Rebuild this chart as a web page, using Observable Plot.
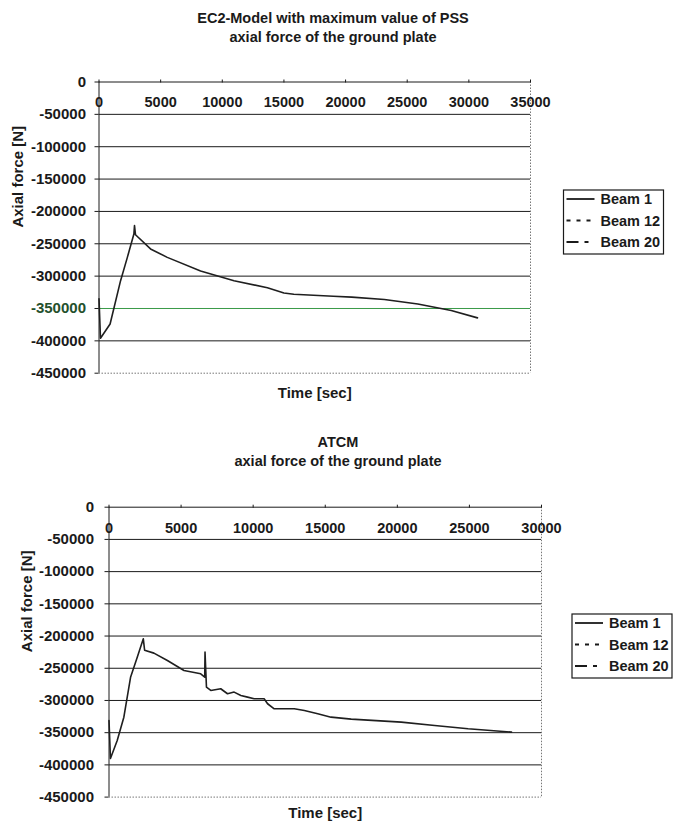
<!DOCTYPE html>
<html><head><meta charset="utf-8">
<script src="https://cdn.jsdelivr.net/npm/d3@7"></script>
<script src="https://cdn.jsdelivr.net/npm/@observablehq/plot@0.6"></script>
<style>
body{margin:0;background:#fff;font-family:"Liberation Sans",Arial,sans-serif;color:#1a1a1a}
#page{position:relative;width:676px;height:825px;overflow:hidden;background:#fff}
.title{position:absolute;left:0;text-align:center;font-weight:bold;font-size:14.5px;line-height:19px;color:#1a1a1a}
.chart{position:absolute;left:0}
</style></head><body><div id="page">
<div class="title" style="top:9px;width:666px">EC2-Model with maximum value of PSS<br>axial force of the ground plate</div>
<div class="chart" id="c1" style="top:60px"></div>
<div class="title" style="top:433px;width:676px">ATCM<br>axial force of the ground plate</div>
<div class="chart" id="c2" style="top:480px"></div>
</div>
<script>
// ---- data ----
const yTicks = [0, -50000, -100000, -150000, -200000, -250000, -300000, -350000, -400000, -450000];
const xTicksEC2 = [0, 5000, 10000, 15000, 20000, 25000, 30000, 35000];
const xTicksATCM = [0, 5000, 10000, 15000, 20000, 25000, 30000];
const seriesNames = ["Beam 1", "Beam 12", "Beam 20"];

// EC2-Model, Beam 1
const ec2Time  = [0, 120, 900, 1750, 2300, 2830, 2880, 2960, 4180, 5540, 8240, 10950, 13660, 15000, 15800, 19000, 20500, 23150, 25860, 28570, 30700];
const ec2Beam1 = [-335000, -396000, -374000, -307000, -271000, -235000, -222000, -236000, -258000, -271000, -292000, -307000, -318000, -326000, -328000, -331000, -332500, -336000, -343000, -353000, -364500];

// ATCM, Beam 1
const atcmTime  = [0, 100, 570, 1030, 1495, 1960, 2380, 2470, 3115, 4050, 5200, 6360, 6640, 6660, 6760, 7060, 7750, 8220, 8680, 9145, 9610, 10070, 10760, 11000, 11460, 12850, 13550, 14480, 15400, 16800, 20270, 22590, 24910, 27920];
const atcmBeam1 = [-331000, -390000, -362000, -326000, -264000, -233000, -204300, -222000, -226500, -238000, -253400, -258600, -263800, -225000, -279300, -284400, -281800, -289600, -287000, -292200, -294800, -297300, -297300, -305100, -312900, -312900, -315500, -320600, -325900, -329000, -333600, -338800, -344000, -349100];

const INK = "#1a1a1a";

function addLegend(svg, x, y) {
  const g = d3.select(svg).append("g").attr("transform", `translate(${x},${y})`);
  g.append("rect").attr("width", 100).attr("height", 64).attr("fill", "white").attr("stroke", INK).attr("stroke-width", 1.2);
  const dashes = [null, "4,6", "12,6,4,6"];
  seriesNames.forEach((name, i) => {
    const cy = 9 + i * 21.5;
    g.append("line").attr("x1", 3).attr("x2", 31).attr("y1", cy).attr("y2", cy)
      .attr("stroke", INK).attr("stroke-width", 1.8).attr("stroke-dasharray", dashes[i]);
    g.append("text").attr("x", 37).attr("y", cy).attr("dy", "0.35em").text(name)
      .attr("text-anchor", "start")
      .attr("font-size", 14.5).attr("font-weight", "bold").attr("fill", INK);
  });
}

function makeChart(o) {
  const data = o.time.map((t, i) => ({t, v: o.values[i]}));
  const grid = yTicks.filter(d => d !== 0 && d !== -450000 && !(o.green && d === -350000));
  const marks = [
    Plot.ruleY(grid, {stroke: INK, strokeWidth: 1}),
    Plot.ruleY([-450000], {stroke: "#777", strokeDasharray: "1.5,1.5"}),
    Plot.ruleX([o.xMax], {stroke: "#777", strokeDasharray: "1.5,1.5"}),
    Plot.ruleY([0], {stroke: INK, strokeWidth: 1}),
    Plot.ruleX([0], {stroke: INK, strokeWidth: 1}),
    Plot.axisY({ticks: yTicks, tickSize: 4, tickFormat: () => "", label: null}),
    Plot.text(yTicks, {y: d => d, frameAnchor: "left", text: d => String(d), textAnchor: "end", dx: -(4 + o.tickPad), fontSize: 15, fontWeight: "bold", fill: INK}),
    Plot.axisX({anchor: "top", ticks: o.xTicks, tickSize: 3, tickFormat: () => "", label: null}),
    Plot.text(o.xTicks, {x: d => d, y: () => 0, text: d => String(d), dy: o.xLabelDy, fontSize: 14.5, fontWeight: "bold", fill: INK}),
    Plot.line(data, {x: "t", y: "v", stroke: "#1f1f1f", strokeWidth: 1.6}),
    Plot.text(["Axial force [N]"], {frameAnchor: "left", rotate: -90, dx: -o.yLabelDx, fontSize: 15, fontWeight: "bold", fill: INK}),
    Plot.text(["Time [sec]"], {frameAnchor: "bottom", dy: o.xTitleDy, fontSize: 15, fontWeight: "bold", fill: INK})
  ];
  if (o.green) marks.splice(1, 0, Plot.ruleY([-350000], {stroke: "#3a9a48", strokeWidth: 1}));
  const svg = Plot.plot({
    width: 676, height: 345,
    marginTop: o.mt, marginLeft: o.ml, marginRight: o.mr, marginBottom: o.mb,
    style: {fontFamily: "'Liberation Sans', Arial, sans-serif", fontSize: "14px", fontWeight: "bold", color: INK, background: "transparent"},
    x: {domain: [0, o.xMax], ticks: o.xTicks},
    y: {domain: [-450000, 0], ticks: yTicks},
    marks
  });
  if (o.green) {
    d3.select(svg).selectAll("text").filter(function() { return this.textContent === "-350000"; }).attr("fill", "#24502c");
  }
  addLegend(svg, o.legX, o.legY);
  document.getElementById(o.id).appendChild(svg);
}

makeChart({id: "c1", time: ec2Time, values: ec2Beam1, xTicks: xTicksEC2, xMax: 35000,
  mt: 21.5, ml: 98.5, mr: 146, mb: 32.3, tickPad: 9, xLabelDy: 20, yLabelDx: 80.5, xTitleDy: 24.3,
  green: true, legX: 563.5, legY: 130});
makeChart({id: "c2", time: atcmTime, values: atcmBeam1, xTicks: xTicksATCM, xMax: 30000,
  mt: 26.7, ml: 108.5, mr: 135, mb: 28.4, tickPad: 11, xLabelDy: 21, yLabelDx: 81.5, xTitleDy: 20.4,
  green: false, legX: 572, legY: 134});
</script>
</body></html>
